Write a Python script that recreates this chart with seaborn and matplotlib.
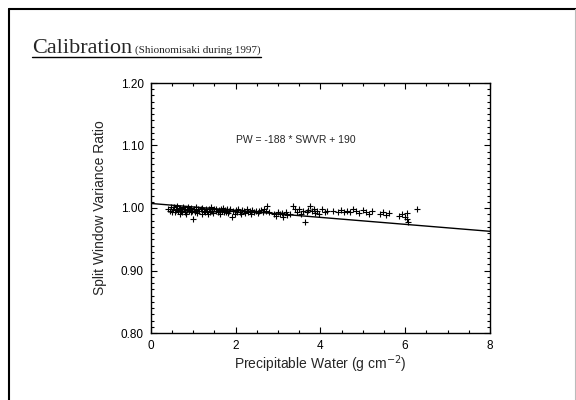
import matplotlib.pyplot as plt
from matplotlib.lines import Line2D
from matplotlib.ticker import MultipleLocator
import pandas as pd
import seaborn as sns

# points (precipitable water, split window variance ratio)
pw = [0.42, 0.45, 0.48, 0.50, 0.52, 0.55, 0.57, 0.60, 0.62, 0.64, 0.66, 0.68, 0.70,
      0.72, 0.74, 0.76, 0.78, 0.80, 0.82, 0.84, 0.86, 0.88, 0.90, 0.92, 0.94, 0.96,
      0.98, 1.00, 1.02, 1.04, 1.06, 1.08, 1.10, 1.12, 1.15, 1.18, 1.20, 1.22, 1.25,
      1.28, 1.30, 1.33, 1.35, 1.38, 1.40, 1.43, 1.45, 1.48, 1.50, 1.53, 1.55, 1.58,
      1.60, 1.63, 1.65, 1.68, 1.70, 1.73, 1.75, 1.78, 1.80, 1.83, 1.85, 1.88, 1.92,
      1.95, 1.98, 2.00, 2.03, 2.06, 2.10, 2.13, 2.16, 2.20, 2.23, 2.26, 2.30, 2.33,
      2.37, 2.40, 2.44, 2.48, 2.52, 2.56, 2.60, 2.64, 2.68, 2.72, 2.74, 2.80,
      2.90, 2.95, 3.00, 3.05, 3.10, 3.12, 3.18, 3.22, 3.28, 3.36, 3.40, 3.45, 3.50,
      3.55, 3.60, 3.64, 3.68, 3.72, 3.76, 3.80, 3.84, 3.88, 3.92, 3.96,
      4.05, 4.10, 4.15, 4.30, 4.42, 4.48, 4.55, 4.62, 4.70, 4.78, 4.85, 4.92, 5.00,
      5.08, 5.15, 5.22, 5.40, 5.48, 5.55, 5.62, 5.85, 5.92, 6.00, 6.04, 6.05, 6.06,
      6.28]
swvr = [0.999, 0.996, 1.002, 0.994, 0.998, 1.001, 0.993, 0.997, 1.003, 0.995, 0.999,
        0.991, 1.000, 0.996, 0.993, 1.002, 0.998, 0.994, 0.999, 0.990, 0.997, 1.001,
        0.995, 0.998, 0.993, 1.000, 0.996, 0.983, 0.998, 0.994, 1.001, 0.997, 0.992,
        0.999, 0.995, 0.998, 0.991, 1.000, 0.996, 0.993, 0.999, 0.995, 0.990, 0.998,
        0.994, 1.001, 0.996, 0.992, 0.998, 0.995, 0.999, 0.993, 0.997, 0.991, 0.998,
        0.995, 1.000, 0.993, 0.997, 0.994, 0.999, 0.992, 0.996, 0.998, 0.985, 0.995,
        0.990, 0.997, 0.993, 0.998, 0.994, 0.991, 0.997, 0.995, 0.992, 0.998, 0.994,
        0.996, 0.991, 0.997, 0.993, 0.996, 0.992, 0.995, 0.997, 0.993, 0.998, 0.995,
        1.004, 0.994,
        0.991, 0.988, 0.993, 0.990, 0.992, 0.985, 0.994, 0.989, 0.991, 1.004, 0.998,
        0.994, 0.999, 0.990, 0.996, 0.977, 0.993, 0.997, 1.004, 0.995, 0.999, 0.992,
        0.996, 0.990,
        0.998, 0.993, 0.996, 0.995, 0.994, 0.997, 0.993, 0.996, 0.994, 0.998, 0.995,
        0.992, 0.997, 0.994, 0.990, 0.995, 0.991, 0.994, 0.989, 0.992, 0.988, 0.991,
        0.986, 0.992, 0.982, 0.977, 0.999]

# fitted line as drawn on the slide
fit_pw = [0, 8]
fit_swvr = [1.0073, 0.9627]

df = pd.DataFrame({'PW': pw, 'SWVR': swvr})
fit = pd.DataFrame({'PW': fit_pw, 'SWVR': fit_swvr})

sns.set_style('ticks')
plt.rcParams['font.family'] = ['Liberation Sans', 'DejaVu Sans']

fig = plt.figure(figsize=(5.76, 4.0), dpi=100)
ax = fig.add_axes([0.2616, 0.1675, 0.5891, 0.625])

sns.scatterplot(data=df, x='PW', y='SWVR', marker='+', color='black', s=14,
                linewidth=0.8, ax=ax)
sns.lineplot(data=fit, x='PW', y='SWVR', color='black', linewidth=1.0, ax=ax)

ax.set_xlim(0, 8)
ax.set_ylim(0.80, 1.20)
ax.xaxis.set_major_locator(MultipleLocator(2))
ax.xaxis.set_minor_locator(MultipleLocator(0.5))
ax.yaxis.set_major_locator(MultipleLocator(0.1))
ax.yaxis.set_minor_locator(MultipleLocator(0.01))
ax.set_yticks([0.8, 0.9, 1.0, 1.1, 1.2], ['0.80', '0.90', '1.00', '1.10', '1.20'])
ax.set_xticks([0, 2, 4, 6, 8], ['0', '2', '4', '6', '8'])
ax.tick_params(which='both', direction='in', top=True, right=True, colors='black',
               labelsize=8.5, width=0.8)
ax.tick_params(which='major', length=4, pad=5)
ax.tick_params(which='minor', length=2)
for s in ax.spines.values():
    s.set_color('black')
    s.set_linewidth(1.0)

ax.set_xlabel('Precipitable Water (g cm$^{-2}$)', fontsize=10, labelpad=1)
ax.set_ylabel('Split Window Variance Ratio', fontsize=10, labelpad=10)

ax.text(2.0, 1.108, 'PW = -188 * SWVR + 190', fontsize=7.5, va='center', ha='left')

# slide title
t1 = fig.text(32 / 576, 1 - 53 / 400, 'Calibration', family='Liberation Serif',
              fontsize=16, va='baseline', ha='left')
fig.canvas.draw()
x_sub = t1.get_window_extent().x1 / fig.bbox.width + 3 / 576
t2 = fig.text(x_sub, 1 - 53 / 400, '(Shionomisaki during 1997)',
              family='Liberation Serif', fontsize=8, va='baseline', ha='left')
fig.canvas.draw()
x_end = t2.get_window_extent().x1 / fig.bbox.width
fig.add_artist(Line2D([32 / 576, x_end], [1 - 57 / 400, 1 - 57 / 400],
                      color='black', linewidth=1.0, transform=fig.transFigure))

# slide frame
fig.add_artist(Line2D([9 / 576, 9 / 576], [0, 1 - 9 / 400], color='black',
                      linewidth=1.5, transform=fig.transFigure))
fig.add_artist(Line2D([9 / 576, 1], [1 - 9 / 400, 1 - 9 / 400], color='black',
                      linewidth=1.5, transform=fig.transFigure))
fig.add_artist(Line2D([575 / 576, 575 / 576], [0, 1 - 9 / 400], color='#bbbbbb',
                      linewidth=0.8, transform=fig.transFigure))

plt.savefig('out.png', dpi=100)
